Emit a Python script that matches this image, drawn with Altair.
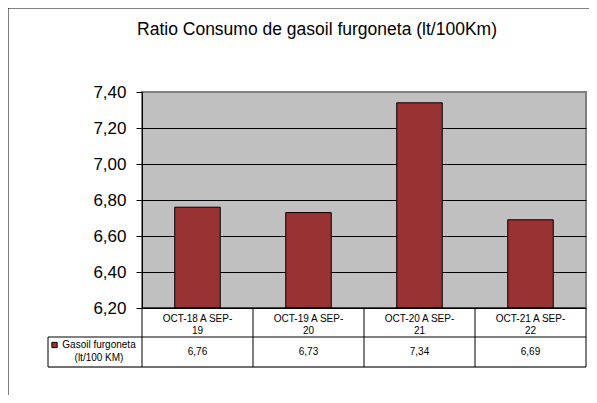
import altair as alt
import pandas as pd

title_text = "Ratio Consumo de gasoil furgoneta (lt/100Km)"
categories = ["OCT-18 A SEP-19", "OCT-19 A SEP-20", "OCT-20 A SEP-21", "OCT-21 A SEP-22"]
values = [6.76, 6.73, 7.34, 6.69]
y_ticks = [6.20, 6.40, 6.60, 6.80, 7.00, 7.20, 7.40]
series_name = ["Gasoil furgoneta", "(lt/100 KM)"]

BAR = "#993333"
FONT = "Liberation Sans"
W, H = 444, 216

df = pd.DataFrame({
    "cat": categories,
    "value": values,
    "label": [c.replace("SEP-", "SEP-\n") for c in categories],
})

xenc = alt.X("cat:N", sort=categories,
             scale=alt.Scale(paddingInner=0, paddingOuter=0), axis=None)

base = alt.Chart(df)

bars = base.mark_bar(width={"band": 0.41}, color=BAR, stroke="black",
                     strokeWidth=1).encode(
    x=xenc,
    y=alt.Y("value:Q",
            scale=alt.Scale(domain=[y_ticks[0], y_ticks[-1]], zero=False, nice=False),
            axis=alt.Axis(
                title=None, values=y_ticks,
                labelExpr="replace(format(datum.value, '.2f'), '.', ',')",
                labelFont=FONT, labelFontSize=17, labelColor="black",
                labelPadding=10, tickSize=6, tickColor="black",
                domainColor="black", domainWidth=1,
                grid=True,
                gridColor={"condition": {"test": "datum.value >= 7.39", "value": "#808080"},
                           "value": "black"},
                gridWidth=1,
            )),
    y2=alt.datum(y_ticks[0]),
)

cat_text = base.mark_text(font=FONT, fontSize=10, lineBreak="\n", lineHeight=11.5,
                          baseline="middle", align="center", color="black").encode(
    x=xenc, y=alt.value(227), text="label:N")

val_text = base.transform_calculate(
    lab="replace(format(datum.value, '.2f'), '.', ',')"
).mark_text(font=FONT, fontSize=10, baseline="middle", align="center",
            color="black").encode(
    x=xenc, y=alt.value(260), text="lab:N")

# column separators at band starts
col_lines = base.mark_rule(color="black", strokeWidth=1).encode(
    x=alt.X("cat:N", sort=categories, bandPosition=0,
            scale=alt.Scale(paddingInner=0, paddingOuter=0), axis=None),
    y=alt.value(H), y2=alt.value(275))

one = pd.DataFrame({"t": [title_text]})


def rule(x, x2, y, y2, color="black", w=1):
    return alt.Chart(one).mark_rule(color=color, strokeWidth=w).encode(
        x=alt.value(x), x2=alt.value(x2), y=alt.value(y), y2=alt.value(y2))


lines = [
    rule(0, W, H, H),             # table top
    rule(-94, W, 245, 245),       # between rows
    rule(-94, W, 275, 275, "#707070", 2),  # table bottom
    rule(-94, -94, 245, 275),     # legend cell left
    rule(W, W, H, 275),           # table right
    rule(-134, 470, -84, -84, "#808080", 2),  # outer frame top
    rule(-134, -134, -84, 320),   # outer frame left
]

title = alt.Chart(one).mark_text(font=FONT, fontSize=17.5, align="center",
                                 baseline="middle", color="black").encode(
    text="t:N", x=alt.value(175), y=alt.value(-62))

leg_df = pd.DataFrame({"t": series_name, "yy": [253, 265.5]})
leg_text = alt.Chart(leg_df).mark_text(font=FONT, fontSize=10, align="center",
                                       baseline="middle", color="black").encode(
    text="t:N", x=alt.value(-43), y=alt.Y("yy:Q", scale=None))
leg_sym = alt.Chart(one).mark_square(size=28, color=BAR, stroke="black",
                                     strokeWidth=1, opacity=1).encode(
    x=alt.value(-87.5), y=alt.value(253))

chart = alt.layer(bars, *lines, col_lines, cat_text, val_text, title,
                  leg_text, leg_sym).properties(
    width=W, height=H,
    autosize=alt.AutoSizeParams(type="none"),
    padding={"left": 134, "top": 84, "right": 3, "bottom": 87},
    background="white",
).configure_view(fill="#C0C0C0", stroke="#808080", strokeWidth=2)

chart.save("out.html", embed_options={"renderer": "svg", "actions": False})
